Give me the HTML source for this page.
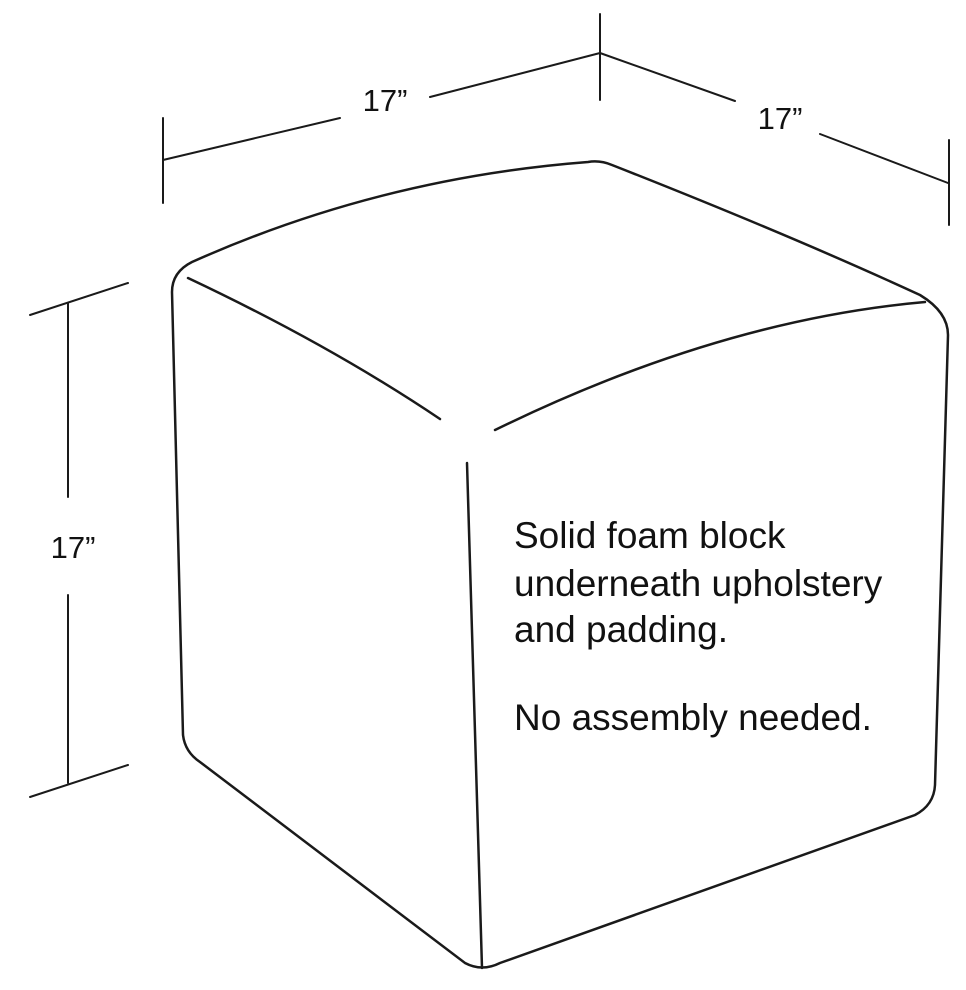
<!DOCTYPE html>
<html><head><style>
html,body{margin:0;padding:0;background:#fff;}
svg{display:block;}
text{font-family:"Liberation Sans",Arial,sans-serif;fill:#111;}
</style></head><body>
<svg width="966" height="990" viewBox="0 0 966 990" xmlns="http://www.w3.org/2000/svg">
<g stroke="#1a1a1a" stroke-width="2" fill="none" stroke-linecap="round">
<line x1="163" y1="118" x2="163" y2="203"/>
<line x1="163" y1="160" x2="340" y2="118"/>
<line x1="430" y1="97" x2="600" y2="53"/>
<line x1="600" y1="14" x2="600" y2="100"/>
<line x1="600" y1="53" x2="735" y2="101"/>
<line x1="820" y1="134" x2="948" y2="183"/>
<line x1="949" y1="140" x2="949" y2="225"/>
<line x1="30" y1="315" x2="128" y2="283"/>
<line x1="68" y1="303" x2="68" y2="497"/>
<line x1="68" y1="595" x2="68" y2="783"/>
<line x1="30" y1="797" x2="128" y2="765"/>
</g>
<g stroke="#1a1a1a" stroke-width="2.5" fill="none" stroke-linecap="round">
<path d="M183,735 L172,292 Q172,272 192,262 Q380,178 588,162 Q600,160 612,165 Q790,235 920,295 Q948,312 948,335 L935,785 Q934,805 915,815 L500,963 Q482,972 465,963 L200,762 Q185,752 183,735 Z"/>
<path d="M188,278 Q330,345 440,419"/>
<path d="M495,430 Q720,320 925,302"/>
<path d="M467,463 L482,968"/>
</g>
<g font-size="31">
<text x="385" y="111" text-anchor="middle">17”</text>
<text x="780" y="129" text-anchor="middle">17”</text>
<text x="73" y="558" text-anchor="middle">17”</text>
</g>
<g font-size="37">
<text x="514" y="548">Solid foam block</text>
<text x="514" y="596">underneath upholstery</text>
<text x="514" y="642">and padding.</text>
<text x="514" y="730">No assembly needed.</text>
</g>
</svg>
</body></html>
